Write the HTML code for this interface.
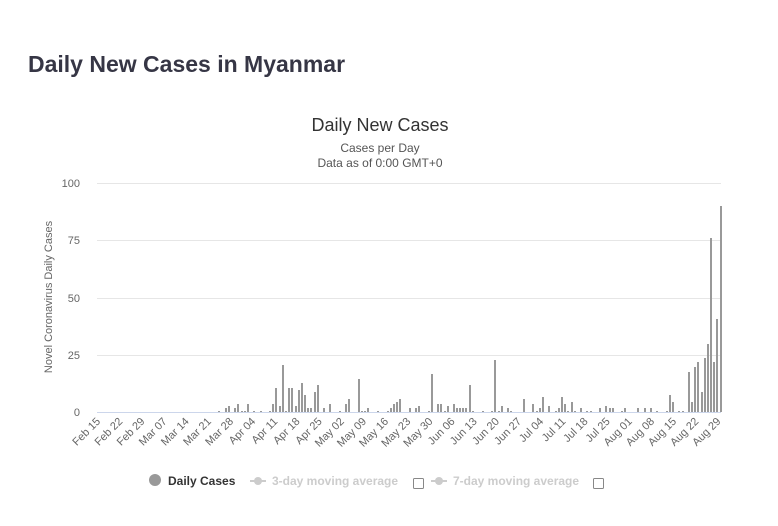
<!DOCTYPE html>
<html><head><meta charset="utf-8"><style>
body{margin:0;background:#fff;font-family:"Liberation Sans",sans-serif;}
</style></head><body>
<svg width="778" height="521" xmlns="http://www.w3.org/2000/svg" font-family="Liberation Sans, sans-serif">
<rect width="778" height="521" fill="#fff"/>
<text x="28" y="72" font-size="23" font-weight="bold" fill="#363645">Daily New Cases in Myanmar</text>
<text x="380" y="131" font-size="18" fill="#333" text-anchor="middle">Daily New Cases</text>
<text x="380" y="152" font-size="12" fill="#555" text-anchor="middle">Cases per Day</text>
<text x="380" y="167" font-size="12" fill="#555" text-anchor="middle">Data as of 0:00 GMT+0</text>
<g stroke="#e6e6e6" stroke-width="1">
<line x1="97" x2="721" y1="183.5" y2="183.5"/><line x1="97" x2="721" y1="240.5" y2="240.5"/>
<line x1="97" x2="721" y1="298.5" y2="298.5"/><line x1="97" x2="721" y1="355.5" y2="355.5"/>
</g>
<g font-size="11" fill="#666" text-anchor="end">
<text x="80" y="187">100</text><text x="80" y="244">75</text><text x="80" y="302">50</text><text x="80" y="359">25</text><text x="80" y="416">0</text>
</g>
<text transform="translate(52,297) rotate(-90)" font-size="11" fill="#666" text-anchor="middle">Novel Coronavirus Daily Cases</text>
<g fill="#999">
<rect x="218" y="411" width="2" height="1"/><rect x="225" y="408" width="2" height="4"/><rect x="228" y="406" width="2" height="6"/><rect x="234" y="408" width="2" height="4"/><rect x="237" y="404" width="2" height="8"/><rect x="241" y="411" width="2" height="1"/><rect x="244" y="411" width="2" height="1"/><rect x="247" y="404" width="2" height="8"/><rect x="253" y="411" width="2" height="1"/><rect x="260" y="411" width="2" height="1"/><rect x="269" y="411" width="2" height="1"/><rect x="272" y="404" width="2" height="8"/><rect x="275" y="388" width="2" height="24"/><rect x="279" y="406" width="2" height="6"/><rect x="282" y="365" width="2" height="47"/><rect x="285" y="411" width="2" height="1"/><rect x="288" y="388" width="2" height="24"/><rect x="291" y="388" width="2" height="24"/><rect x="295" y="406" width="2" height="6"/><rect x="298" y="390" width="2" height="22"/><rect x="301" y="383" width="2" height="29"/><rect x="304" y="395" width="2" height="17"/><rect x="307" y="408" width="2" height="4"/><rect x="310" y="408" width="2" height="4"/><rect x="314" y="392" width="2" height="20"/><rect x="317" y="385" width="2" height="27"/><rect x="323" y="408" width="2" height="4"/><rect x="329" y="404" width="2" height="8"/><rect x="339" y="411" width="2" height="1"/><rect x="345" y="404" width="2" height="8"/><rect x="348" y="399" width="2" height="13"/><rect x="358" y="379" width="2" height="33"/><rect x="361" y="411" width="2" height="1"/><rect x="364" y="411" width="2" height="1"/><rect x="367" y="408" width="2" height="4"/><rect x="377" y="411" width="2" height="1"/><rect x="387" y="411" width="2" height="1"/><rect x="390" y="408" width="2" height="4"/><rect x="393" y="404" width="2" height="8"/><rect x="396" y="402" width="2" height="10"/><rect x="399" y="399" width="2" height="13"/><rect x="409" y="408" width="2" height="4"/><rect x="415" y="408" width="2" height="4"/><rect x="418" y="406" width="2" height="6"/><rect x="428" y="411" width="2" height="1"/><rect x="431" y="374" width="2" height="38"/><rect x="437" y="404" width="2" height="8"/><rect x="440" y="404" width="2" height="8"/><rect x="444" y="411" width="2" height="1"/><rect x="447" y="406" width="2" height="6"/><rect x="453" y="404" width="2" height="8"/><rect x="456" y="408" width="2" height="4"/><rect x="459" y="408" width="2" height="4"/><rect x="462" y="408" width="2" height="4"/><rect x="465" y="408" width="2" height="4"/><rect x="469" y="385" width="2" height="27"/>
<rect x="472" y="411" width="2" height="1"/><rect x="482" y="411" width="2" height="1"/><rect x="491" y="411" width="2" height="1"/><rect x="494" y="360" width="2" height="52"/><rect x="498" y="411" width="2" height="1"/><rect x="501" y="406" width="2" height="6"/><rect x="507" y="408" width="2" height="4"/><rect x="510" y="411" width="2" height="1"/><rect x="523" y="399" width="2" height="13"/><rect x="532" y="404" width="2" height="8"/><rect x="536" y="411" width="2" height="1"/><rect x="539" y="408" width="2" height="4"/><rect x="542" y="397" width="2" height="15"/><rect x="548" y="406" width="2" height="6"/><rect x="555" y="411" width="2" height="1"/><rect x="558" y="408" width="2" height="4"/><rect x="561" y="397" width="2" height="15"/><rect x="564" y="404" width="2" height="8"/><rect x="567" y="411" width="2" height="1"/><rect x="571" y="402" width="2" height="10"/><rect x="574" y="411" width="2" height="1"/><rect x="580" y="408" width="2" height="4"/><rect x="586" y="411" width="2" height="1"/><rect x="590" y="411" width="2" height="1"/><rect x="599" y="408" width="2" height="4"/><rect x="605" y="406" width="2" height="6"/><rect x="609" y="408" width="2" height="4"/><rect x="612" y="408" width="2" height="4"/><rect x="621" y="411" width="2" height="1"/><rect x="624" y="408" width="2" height="4"/><rect x="637" y="408" width="2" height="4"/><rect x="644" y="408" width="2" height="4"/><rect x="650" y="408" width="2" height="4"/><rect x="656" y="411" width="2" height="1"/><rect x="666" y="411" width="2" height="1"/>
<rect x="669" y="395" width="2" height="17"/><rect x="672" y="402" width="2" height="10"/><rect x="678" y="411" width="2" height="1"/><rect x="682" y="411" width="2" height="1"/><rect x="688" y="372" width="2" height="40"/><rect x="691" y="402" width="2" height="10"/><rect x="694" y="367" width="2" height="45"/><rect x="697" y="362" width="2" height="50"/><rect x="701" y="392" width="2" height="20"/><rect x="704" y="358" width="2" height="54"/><rect x="707" y="344" width="2" height="68"/><rect x="710" y="238" width="2" height="174"/><rect x="713" y="362" width="2" height="50"/><rect x="716" y="319" width="2" height="93"/><rect x="720" y="206" width="2" height="206"/>
</g>
<line x1="97" x2="721" y1="412.5" y2="412.5" stroke="#ccd6eb"/>
<g font-size="11" fill="#666" text-anchor="end">
<text transform="translate(101,422) rotate(-45)">Feb 15</text>
<text transform="translate(123.2,422) rotate(-45)">Feb 22</text>
<text transform="translate(145.3,422) rotate(-45)">Feb 29</text>
<text transform="translate(167.5,422) rotate(-45)">Mar 07</text>
<text transform="translate(189.6,422) rotate(-45)">Mar 14</text>
<text transform="translate(211.8,422) rotate(-45)">Mar 21</text>
<text transform="translate(233.9,422) rotate(-45)">Mar 28</text>
<text transform="translate(256.1,422) rotate(-45)">Apr 04</text>
<text transform="translate(278.2,422) rotate(-45)">Apr 11</text>
<text transform="translate(300.4,422) rotate(-45)">Apr 18</text>
<text transform="translate(322.6,422) rotate(-45)">Apr 25</text>
<text transform="translate(344.7,422) rotate(-45)">May 02</text>
<text transform="translate(366.9,422) rotate(-45)">May 09</text>
<text transform="translate(389,422) rotate(-45)">May 16</text>
<text transform="translate(411.2,422) rotate(-45)">May 23</text>
<text transform="translate(433.3,422) rotate(-45)">May 30</text>
<text transform="translate(455.5,422) rotate(-45)">Jun 06</text>
<text transform="translate(477.6,422) rotate(-45)">Jun 13</text>
<text transform="translate(499.8,422) rotate(-45)">Jun 20</text>
<text transform="translate(521.9,422) rotate(-45)">Jun 27</text>
<text transform="translate(544.1,422) rotate(-45)">Jul 04</text>
<text transform="translate(566.3,422) rotate(-45)">Jul 11</text>
<text transform="translate(588.4,422) rotate(-45)">Jul 18</text>
<text transform="translate(610.6,422) rotate(-45)">Jul 25</text>
<text transform="translate(632.7,422) rotate(-45)">Aug 01</text>
<text transform="translate(654.9,422) rotate(-45)">Aug 08</text>
<text transform="translate(677,422) rotate(-45)">Aug 15</text>
<text transform="translate(699.2,422) rotate(-45)">Aug 22</text>
<text transform="translate(721.3,422) rotate(-45)">Aug 29</text>
</g>
<circle cx="155" cy="480" r="6" fill="#999"/>
<text x="168" y="485" font-size="12" font-weight="bold" fill="#333">Daily Cases</text>
<line x1="250" x2="266" y1="481" y2="481" stroke="#ccc" stroke-width="2"/><circle cx="258" cy="481" r="4" fill="#ccc"/>
<text x="272" y="485" font-size="12" font-weight="bold" fill="#ccc">3-day moving average</text>
<rect x="413.5" y="478.5" width="10" height="10" fill="#fff" stroke="#888" rx="1"/>
<line x1="431" x2="447" y1="481" y2="481" stroke="#ccc" stroke-width="2"/><circle cx="439" cy="481" r="4" fill="#ccc"/>
<text x="453" y="485" font-size="12" font-weight="bold" fill="#ccc">7-day moving average</text>
<rect x="593.5" y="478.5" width="10" height="10" fill="#fff" stroke="#888" rx="1"/>
</svg>
</body></html>
